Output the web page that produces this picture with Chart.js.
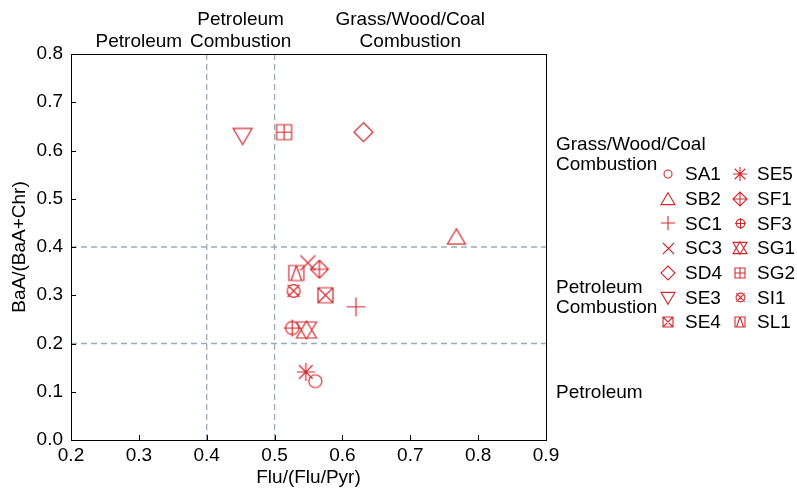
<!DOCTYPE html>
<html>
<head>
<meta charset="utf-8">
<script src="https://cdn.jsdelivr.net/npm/chart.js@4.4.1/dist/chart.umd.min.js"></script>
<style>
  html, body { margin: 0; padding: 0; background: #fff; }
  #wrap { width: 797px; height: 490px; }
</style>
</head>
<body>
<div id="wrap"><canvas id="chart" width="797" height="490"></canvas></div>
<script>
// sample values
const sampleNames = ['SA1', 'SB2', 'SC1', 'SC3', 'SD4', 'SE3', 'SE4', 'SE5', 'SF1', 'SF3', 'SG1', 'SG2', 'SI1', 'SL1'];
const fluRatio = [0.560, 0.768, 0.620, 0.549, 0.631, 0.453, 0.575, 0.546, 0.566, 0.526, 0.547, 0.514, 0.528, 0.532];
const baaRatio = [0.122, 0.421, 0.276, 0.367, 0.638, 0.630, 0.300, 0.141, 0.354, 0.232, 0.228, 0.638, 0.309, 0.346];

// source thresholds
const fluCuts = [0.4, 0.5];
const baaCuts = [0.2, 0.4];

const xTicks = [0.2, 0.3, 0.4, 0.5, 0.6, 0.7, 0.8, 0.9];
const yTicks = [0.0, 0.1, 0.2, 0.3, 0.4, 0.5, 0.6, 0.7, 0.8];

const topLabels = [['Petroleum'], ['Petroleum', 'Combustion'], ['Grass/Wood/Coal', 'Combustion']];
const rightLabels = [['Grass/Wood/Coal', 'Combustion'], ['Petroleum', 'Combustion'], ['Petroleum']];

// marker for each sample, same order as sampleNames
const markerKinds = ['circle', 'triangle', 'plus', 'cross', 'diamond', 'triangleDown', 'squareX',
  'asterisk', 'diamondPlus', 'circlePlus', 'starDavid', 'squarePlus', 'circleX', 'squareTriangle'];

const RED = 'rgb(212, 42, 46)';
const DASH = '#97adba';
const FONT = '"Liberation Sans", Arial, sans-serif';
const FS = 19;

// half-size of each marker on the plot (px)
const plotR = { circle: 6.5, triangle: 9, plus: 9.5, cross: 7.5, diamond: 9.5, triangleDown: 9.5, squareX: 7.5,
  asterisk: 9, diamondPlus: 9, circlePlus: 8.5, starDavid: 10, squarePlus: 7.5, circleX: 8, squareTriangle: 7.5 };
const legendR = { circle: 4, triangle: 7, plus: 7, cross: 5.5, diamond: 7, triangleDown: 7, squareX: 5,
  asterisk: 7, diamondPlus: 7, circlePlus: 5.5, starDavid: 7, squarePlus: 5, circleX: 5.5, squareTriangle: 5 };

function tri(ctx, r, up) {
  const s = up ? 1 : -1;
  ctx.moveTo(0, -s * r * 0.9);
  ctx.lineTo(r, s * r * 0.8);
  ctx.lineTo(-r, s * r * 0.8);
  ctx.closePath();
}

function paintMarker(ctx, kind, r) {
  ctx.beginPath();
  const d = r * 0.75;
  switch (kind) {
    case 'circle':
      ctx.arc(0, 0, r, 0, Math.PI * 2); break;
    case 'triangle':
      tri(ctx, r, true); break;
    case 'triangleDown':
      tri(ctx, r, false); break;
    case 'plus':
      ctx.moveTo(-r, 0); ctx.lineTo(r, 0); ctx.moveTo(0, -r); ctx.lineTo(0, r); break;
    case 'cross':
      ctx.moveTo(-r, -r); ctx.lineTo(r, r); ctx.moveTo(r, -r); ctx.lineTo(-r, r); break;
    case 'diamond':
      ctx.moveTo(0, -r); ctx.lineTo(r, 0); ctx.lineTo(0, r); ctx.lineTo(-r, 0); ctx.closePath(); break;
    case 'squareX':
      ctx.rect(-r, -r, 2 * r, 2 * r);
      ctx.moveTo(-r, -r); ctx.lineTo(r, r); ctx.moveTo(r, -r); ctx.lineTo(-r, r); break;
    case 'asterisk':
      ctx.moveTo(-r, 0); ctx.lineTo(r, 0); ctx.moveTo(0, -r); ctx.lineTo(0, r);
      ctx.moveTo(-d, -d); ctx.lineTo(d, d); ctx.moveTo(d, -d); ctx.lineTo(-d, d); break;
    case 'diamondPlus':
      ctx.moveTo(0, -r); ctx.lineTo(r, 0); ctx.lineTo(0, r); ctx.lineTo(-r, 0); ctx.closePath();
      ctx.moveTo(-r, 0); ctx.lineTo(r, 0); ctx.moveTo(0, -r); ctx.lineTo(0, r); break;
    case 'circlePlus':
      ctx.arc(0, 0, r * 0.78, 0, Math.PI * 2);
      ctx.moveTo(-r, 0); ctx.lineTo(r, 0); ctx.moveTo(0, -r); ctx.lineTo(0, r); break;
    case 'starDavid':
      tri(ctx, r, true); tri(ctx, r, false); break;
    case 'squarePlus':
      ctx.rect(-r, -r, 2 * r, 2 * r);
      ctx.moveTo(-r, 0); ctx.lineTo(r, 0); ctx.moveTo(0, -r); ctx.lineTo(0, r); break;
    case 'circleX':
      ctx.arc(0, 0, r * 0.8, 0, Math.PI * 2);
      ctx.moveTo(-d, -d); ctx.lineTo(d, d); ctx.moveTo(d, -d); ctx.lineTo(-d, d); break;
    case 'squareTriangle':
      ctx.rect(-r, -r, 2 * r, 2 * r);
      ctx.moveTo(0, -r); ctx.lineTo(r * 0.7, r); ctx.moveTo(0, -r); ctx.lineTo(-r * 0.7, r); break;
  }
  ctx.stroke();
}

function markerCanvas(kind, r, lw) {
  const size = Math.ceil(2 * r + 4);
  const c = document.createElement('canvas');
  c.width = size; c.height = size;
  const ctx = c.getContext('2d');
  ctx.strokeStyle = RED;
  ctx.lineWidth = lw;
  ctx.translate(size / 2, size / 2);
  paintMarker(ctx, kind, r);
  return c;
}

const plotMarkers = markerKinds.map(k => markerCanvas(k, plotR[k], 1.2));
const legendMarkers = markerKinds.map(k => markerCanvas(k, legendR[k], 1.1));

const cutDatasets = [
  ...fluCuts.map(v => ({ type: 'line', data: [{ x: v, y: 0 }, { x: v, y: 0.8 }] })),
  ...baaCuts.map(v => ({ type: 'line', data: [{ x: 0.2, y: v }, { x: 0.9, y: v }] })),
].map(d => Object.assign(d, {
  borderColor: DASH, borderWidth: 1.3, borderDash: [6, 4], pointRadius: 0, fill: false,
}));

const decorations = {
  id: 'decorations',
  afterDraw(chart) {
    const { ctx, chartArea: a, scales: { x, y } } = chart;
    ctx.save();
    ctx.strokeStyle = '#000';
    ctx.lineWidth = 1;
    ctx.strokeRect(Math.round(a.left) + 0.5, Math.round(a.top) + 0.5,
      Math.round(a.right - a.left), Math.round(a.bottom - a.top));
    ctx.beginPath();
    xTicks.slice(1, -1).forEach(v => {
      const px = Math.round(x.getPixelForValue(v)) + 0.5;
      ctx.moveTo(px, a.bottom); ctx.lineTo(px, a.bottom - 5);
    });
    yTicks.slice(1, -1).forEach(v => {
      const py = Math.round(y.getPixelForValue(v)) + 0.5;
      ctx.moveTo(a.left, py); ctx.lineTo(a.left + 5, py);
    });
    ctx.stroke();

    ctx.fillStyle = '#000';
    ctx.font = FS + 'px ' + FONT;
    ctx.textBaseline = 'middle';
    // labels above the plot, centred on each Flu/(Flu+Pyr) range
    const bounds = [0.2, ...fluCuts, 0.9];
    topLabels.forEach((lines, i) => {
      const cx = (x.getPixelForValue(bounds[i]) + x.getPixelForValue(bounds[i + 1])) / 2;
      ctx.textAlign = 'center';
      lines.forEach((t, j) => {
        ctx.fillText(t, cx, 42 - (lines.length - 1 - j) * 22);
      });
    });
    // labels right of the plot
    const rightY = [[145, 165], [288, 308], [393]];
    ctx.textAlign = 'left';
    rightLabels.forEach((lines, i) => {
      lines.forEach((t, j) => ctx.fillText(t, a.right + 10, rightY[i][j]));
    });
    // legend, two columns of seven
    sampleNames.forEach((name, i) => {
      const col = Math.floor(i / 7), row = i % 7;
      const mx = 668 + col * 72, my = 174 + row * 24.7;
      const m = legendMarkers[i];
      ctx.drawImage(m, Math.round(mx - m.width / 2), Math.round(my - m.height / 2));
      ctx.fillText(name, mx + 17, my + 1);
    });
    ctx.restore();
  }
};

new Chart(document.getElementById('chart'), {
  type: 'scatter',
  data: {
    datasets: [
      {
        data: sampleNames.map((n, i) => ({ x: fluRatio[i], y: baaRatio[i] })),
        pointStyle: plotMarkers,
        pointRadius: 8,
      },
      ...cutDatasets,
    ],
  },
  options: {
    responsive: false,
    animation: false,
    layout: { padding: { left: 0, top: 54, right: 251, bottom: 0 } },
    plugins: { legend: { display: false }, tooltip: { enabled: false } },
    scales: {
      x: {
        type: 'linear', min: 0.2, max: 0.9,
        afterBuildTicks: s => { s.ticks = xTicks.map(v => ({ value: v })); },
        afterFit: s => { s.height = 50; },
        grid: { display: false, drawTicks: false },
        border: { display: true, color: '#000', width: 1 },
        ticks: { color: '#000', font: { family: FONT, size: FS }, padding: 4, maxRotation: 0,
          callback: v => v.toFixed(1) },
        title: { display: true, text: 'Flu/(Flu/Pyr)', color: '#000', font: { family: FONT, size: FS },
          padding: { top: 0, bottom: 1 } },
      },
      y: {
        type: 'linear', min: 0, max: 0.8,
        afterBuildTicks: s => { s.ticks = yTicks.map(v => ({ value: v })); },
        afterFit: s => { s.width = 71; },
        grid: { display: false, drawTicks: false },
        border: { display: true, color: '#000', width: 1 },
        ticks: { color: '#000', font: { family: FONT, size: FS }, padding: 8,
          callback: v => v.toFixed(1) },
        title: { display: true, text: 'BaA/(BaA+Chr)', color: '#000', font: { family: FONT, size: FS },
          padding: { top: 8, bottom: 0 } },
      },
    },
  },
  plugins: [decorations],
});
</script>
</body>
</html>
